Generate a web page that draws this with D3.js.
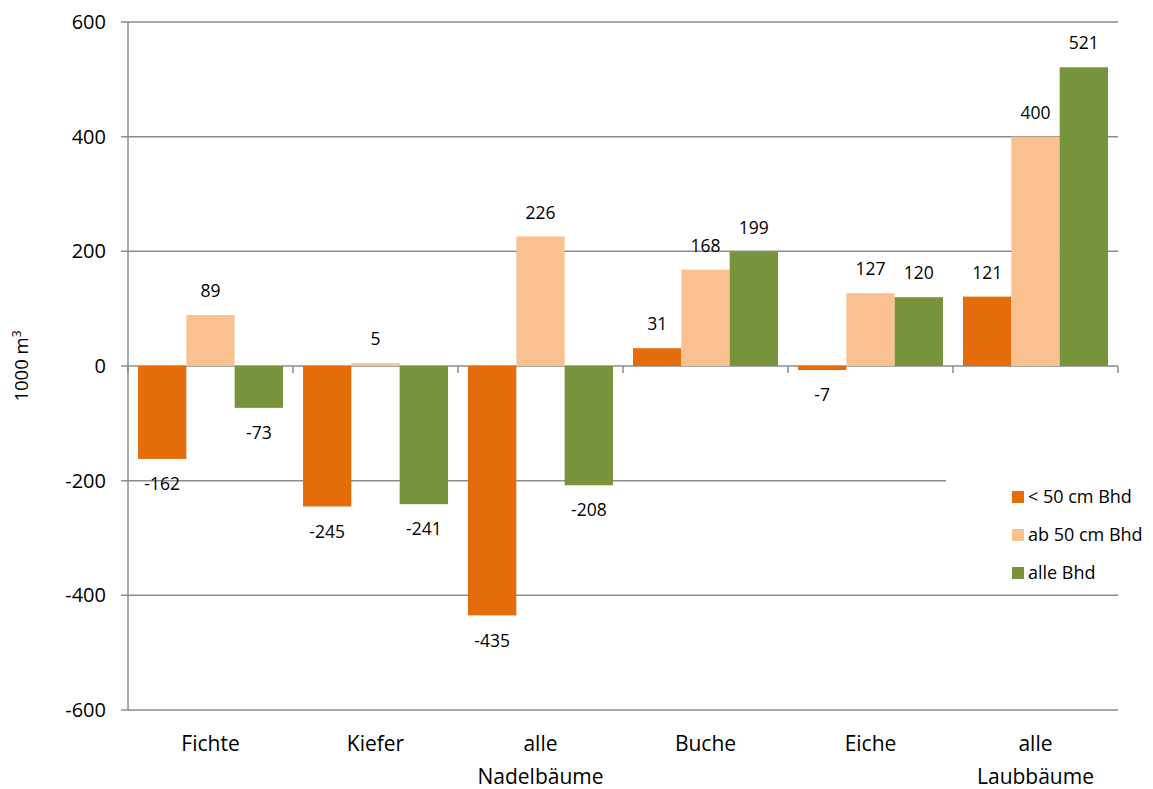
<!DOCTYPE html>
<html><head><meta charset="utf-8">
<script src="https://cdn.jsdelivr.net/npm/d3@7"></script>
<style>body{margin:0;background:#fff}svg{display:block}</style>
</head><body><svg id="c" width="1153" height="789"></svg>
<script>
const categories = [["Fichte"],["Kiefer"],["alle","Nadelbäume"],["Buche"],["Eiche"],["alle","Laubbäume"]];
const seriesNames = ["< 50 cm Bhd","ab 50 cm Bhd","alle Bhd"];
const under50 = [-162,-245,-435,31,-7,121];
const ab50 = [89,5,226,168,127,400];
const alle = [-73,-241,-208,199,120,521];
const yTicks = [-600,-400,-200,0,200,400,600];
const colors = ["#E46C0A","#FAC090","#77933C"];
const seriesValues = [under50, ab50, alle];

const svg = d3.select("#c");
const L=128, R=1118, T=22, B=710;
const x = d3.scaleBand().domain(d3.range(categories.length)).range([L,R]).padding(0);
const y = d3.scaleLinear().domain([-600,600]).range([B,T]);
const xs = d3.scaleBand().domain(d3.range(3)).range([10, x.bandwidth()-10]).padding(0);
const grid="#8c8c8c";
const font="'Open Sans', sans-serif";

svg.append("g").selectAll("line").data(yTicks).join("line")
  .attr("x1",L-7).attr("x2",R).attr("y1",d=>y(d)).attr("y2",d=>y(d))
  .attr("stroke",grid).attr("stroke-width",1.5);
svg.append("line").attr("x1",L).attr("x2",L).attr("y1",T).attr("y2",B).attr("stroke",grid).attr("stroke-width",1.5);
svg.append("g").selectAll("text").data(yTicks).join("text")
  .attr("x",L-22).attr("y",d=>y(d)).attr("dy","0.35em").attr("text-anchor","end")
  .attr("font-family",font).attr("font-size",20).attr("fill","#000").text(d=>d);
svg.append("g").selectAll("line").data(d3.range(categories.length+1)).join("line")
  .attr("x1",i=>L+i*x.step()).attr("x2",i=>L+i*x.step()).attr("y1",y(0)).attr("y2",y(0)+7)
  .attr("stroke",grid).attr("stroke-width",1.5);

svg.append("rect").attr("x",946).attr("y",470).attr("width",200).attr("height",118).attr("fill","#fff");

seriesValues.forEach((vals,s)=>{
  const g = svg.append("g");
  g.selectAll("rect").data(vals).join("rect")
    .attr("x",(d,i)=>x(i)+xs(s)).attr("width",xs.bandwidth())
    .attr("y",d=>y(Math.max(0,d))).attr("height",d=>Math.abs(y(d)-y(0)))
    .attr("fill",colors[s]);
  g.selectAll("text").data(vals).join("text")
    .attr("x",(d,i)=>x(i)+xs(s)+xs.bandwidth()/2)
    .attr("y",d=> d>=0 ? y(d)-24 : y(d)+25).attr("dy","0.35em")
    .attr("text-anchor","middle").attr("font-family",font).attr("font-size",17.5).attr("fill","#000")
    .text(d=>d);
});

categories.forEach((lines,i)=>{
  const t = svg.append("text").attr("text-anchor","middle").attr("font-family",font).attr("font-size",21).attr("fill","#000");
  lines.forEach((ln,j)=>t.append("tspan").attr("x",x(i)+x.bandwidth()/2).attr("y",751+j*33).text(ln));
});

svg.append("text").attr("transform",`translate(28,${y(0)}) rotate(-90)`).attr("text-anchor","middle")
  .attr("font-family",font).attr("font-size",18.5).attr("fill","#000")
  .html("1000 m<tspan dy='-7' font-size='12'>3</tspan>");

const lg = svg.append("g");
seriesNames.forEach((n,i)=>{
  const yy = 497 + i*38;
  lg.append("rect").attr("x",1012).attr("y",yy-6).attr("width",12).attr("height",12).attr("fill",colors[i]);
  lg.append("text").attr("x",1028).attr("y",yy).attr("dy","0.35em").attr("font-family",font).attr("font-size",18).attr("fill","#000").text(n);
});
</script></body></html>
